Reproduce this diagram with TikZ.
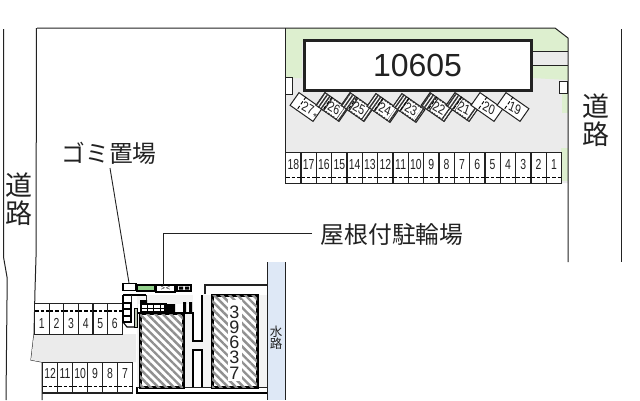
\documentclass[tikz,border=0pt]{standalone}
\usepackage{fontspec}
\setmainfont{Liberation Sans}
\newfontfamily\cjk{Noto Sans CJK JP}
\usetikzlibrary{patterns,patterns.meta,calc}
\definecolor{grn}{HTML}{DDEFCF}
\definecolor{gry}{HTML}{EBEBEB}
\definecolor{wat}{HTML}{DEE8F6}
\definecolor{ink}{HTML}{222222}
\tikzset{
 outline/.style={draw=ink,line width=1pt},
 lab/.style={font=\cjk\fontsize{23.8}{25}\selectfont,text=ink,inner sep=0pt,align=center},
 roadlab/.style={font=\cjk\fontsize{27}{28}\selectfont,text=ink,inner sep=0pt,align=center},
 num/.style={font=\fontsize{14.5}{15}\selectfont,text=ink,inner sep=0pt,xscale=.72},
 dnum/.style={font=\fontsize{14}{14}\selectfont,text=ink,inner sep=0pt,xscale=.78,rotate=-25},
 bigbldg/.style={draw=ink,line width=3pt,fill=white},
 hatchbldg/.style={draw=black,line width=3pt,fill=white,postaction={pattern={Lines[angle=-45,distance=5.5pt,line width=2.4pt]},pattern color=ink!50}},
 bay/.style={draw=ink,line width=1.2pt,fill=white},
 diag/.style={draw=ink,line width=1pt,fill=white,minimum width=28pt,minimum height=15.5pt,inner sep=0pt,rotate=-35},
 dashln/.style={draw=black,line width=1.1pt,dash pattern=on 3.5pt off 2pt},
 leader/.style={draw=ink,line width=.9pt},
 wall/.style={draw=black,line width=2pt},
}
\begin{document}
\begin{tikzpicture}[x=1pt,y=-1pt]
\useasboundingbox (0,0) rectangle (640,400);
\fill[white] (0,0) rectangle (640,400);
% upper lot
\fill[gry] (285,28) -- (555,28) -- (568,38) -- (568,183) -- (285,183) -- cycle;
\fill[grn] (285,28) -- (555,28) -- (568,38) -- (568,51) -- (532,51) -- (532,42) -- (302,42) -- (302,78) -- (285,78) -- cycle;
\fill[grn] (532,66) -- (568,66) -- (568,80) -- (532,78) -- cycle;
\fill[grn] (562,93) rectangle (568,113);
\fill[grn] (561,148) rectangle (568,181);
\draw[ink,line width=.7pt] (532,51.5) -- (568,51.5) (532,65.5) -- (568,65.5);
\node[draw=ink,line width=.8pt,fill=white,minimum width=7pt,minimum height=17pt,inner sep=0pt] (sqa) at (288.5,85.5) {};
\node[draw=ink,line width=.8pt,fill=white,minimum width=8pt,minimum height=12pt,inner sep=0pt] (sqb) at (563.5,87) {};
% boundary
\draw[outline] (3.5,29) -- (3.5,257) -- (7,277) -- (7,300) -- (6,400);
\draw[outline] (37,28) -- (555,28) -- (568,38) -- (568,262);
\draw[outline] (36.5,28) -- (36,257) -- (35,290) -- (34,334) -- (31,360) -- (42,362) -- (42,400);
\draw[outline] (285,28) -- (285,184);
\draw[outline] (621,29) -- (621,262);
% building
\node[bigbldg,minimum width=227pt,minimum height=50pt,inner sep=0pt,font=\fontsize{32}{33}\selectfont,text=ink] (b) at (417.5,65.5) {10605};
% diagonal bays
\foreach \n/\x/\y/\h in {27/306/107/0,26/332/107/1,25/357/107/1,24/383/108/1,23/409/108/1,22/437/107/1,21/462/107/1,20/487/107/0,19/513/107/0}{
 \node[diag] (d\n) at (\x,\y) {};
 \ifnum\h=1
  \fill[pattern={Lines[angle=55,distance=3pt,line width=1.5pt]},pattern color=black!80] (d\n.north west) -- (d\n.north east) -- (d\n.south east) -- (d\n.south west) -- cycle;
  \fill[white] ($(d\n.north west)!.38!(d\n.north east)+(-1,1.5)$) -- ($(d\n.north west)!.85!(d\n.north east)+(-1,1.5)$) -- ($(d\n.south west)!.85!(d\n.south east)+(1,-1.5)$) -- ($(d\n.south west)!.38!(d\n.south east)+(1,-1.5)$) -- cycle;
 \fi
 \draw[dashln,line width=.9pt] ($(d\n.north west)!.3!(d\n.north east)$) -- ($(d\n.south west)!.3!(d\n.south east)$);
 \node[dnum] (t\n) at ($(d\n.center)+(2,1)$) {\n};
}
\node[font=\fontsize{10}{10}\selectfont,text=ink,inner sep=0pt] (star) at (315,117) {*};
% upper bays
\foreach \i in {1,...,18}{
 \pgfmathsetmacro{\xx}{561-15.33*\i}
 \node[bay,anchor=north west,minimum width=15.33pt,minimum height=31pt,inner sep=0pt] (u\i) at (\xx,152) {};
 \node[num] (ul\i) at ($(u\i.center)+(0,-4)$) {\i};
 \draw[dashln] ($(u\i.south west)+(1,-7)$) -- ($(u\i.south east)+(0,-7)$);
}
% lower-left lot
\fill[gry] (34,334) -- (136,334) -- (136,362) -- (42,362) -- (31,360) -- cycle;
\foreach \i/\x in {1/34,2/48.6,3/63.2,4/77.8,5/92.4,6/107}{
 \node[bay,anchor=north west,minimum width=14.6pt,minimum height=31pt,inner sep=0pt] (a\i) at (\x,303) {};
 \node[num] (al\i) at ($(a\i.center)+(0,4)$) {\i};
 \draw[dashln] ($(a\i.north west)+(1,8)$) -- ($(a\i.north east)+(0,8)$);
}
\foreach \i/\x in {12/42,11/57,10/72,9/87,8/102,7/117}{
 \node[bay,anchor=north west,minimum width=15pt,minimum height=31pt,inner sep=0pt] (c\i) at (\x,362) {};
 \node[num] (cl\i) at ($(c\i.center)+(0,-4.5)$) {\i};
 \draw[dashln] ($(c\i.south west)+(1,-8)$) -- ($(c\i.south east)+(0,-8)$);
}
\draw[ink,line width=1.4pt] (42,393) -- (132,393);
% water channel
\fill[wat] (267,262) rectangle (285,400);
\draw[outline] (267,262) -- (267,400);
\draw[outline] (285,262) -- (285,400);
\node[font=\cjk\fontsize{12.5}{13}\selectfont,text=ink,inner sep=0pt,align=center] (w) at (276,338) {水\\[-1pt]路};
% right-hand lot
\fill[gry!60] (137,295) rectangle (267,393);
\fill[white] (205,285) rectangle (267,294);
\fill[white] (137,387) rectangle (267,393);
\draw[ink,line width=1.4pt] (205,294) -- (205,285) -- (267,285);
\draw[black,line width=1.6pt] (137,387) -- (137,393) -- (267,393);
\draw[ink,line width=.6pt] (137,387) -- (267,387);
\fill[white] (193,295) rectangle (202,341);
\fill[white] (193,350) rectangle (202,387);
\draw[wall] (202,295) -- (202,341) -- (193,341) -- (193,313);
\draw[wall] (193,387) -- (193,350) -- (202,350) -- (202,387);
\node[hatchbldg,minimum width=43pt,minimum height=74pt,inner sep=0pt] (ha) at (161.5,350) {};
\node[hatchbldg,minimum width=45pt,minimum height=92pt,inner sep=0pt] (hb) at (234.5,341) {};
\fill[white] (228,300) rectangle (242,381);
\foreach \t/\y in {3/312,9/327,6/342.5,3/357,7/373}{
 \node[font=\fontsize{18}{18}\selectfont,text=ink,inner sep=0pt] at (234.5,\y) {\t};
}
% small structures
\node[draw=black,line width=1.2pt,fill=white,minimum width=13pt,minimum height=7pt,inner sep=0pt] (sa) at (129.5,287) {};
\node[draw=black,line width=1.6pt,fill=grn!70!green!70!gray,minimum width=18pt,minimum height=6pt,inner sep=0pt] (sb) at (146,288) {};
\node[draw=black,line width=1.2pt,fill=white,minimum width=19pt,minimum height=7pt,inner sep=0pt,font=\fontsize{7}{7}\selectfont] (sc) at (165.5,288.5) {>\,<};
\node[draw=black,line width=1.2pt,fill=gry,minimum width=14pt,minimum height=6pt,inner sep=0pt] (sd) at (184,288) {};
\fill[black] (179,286.5) rectangle (183,289.5) (185,286.5) rectangle (189,289.5);
\draw[black,line width=1.2pt] (123,295) -- (146,295) (123,295) -- (123,303);
\draw[ink,line width=.8pt] (131,295) -- (131,303) (146,295) -- (146,304);
\draw[black,line width=1.1pt,fill=white] (123,303) rectangle (131,309) (123,309) rectangle (131,316) (123,316) rectangle (131,322);
\draw[black,line width=1.1pt] (123,322) -- (127,327) -- (134,327);
\fill[grn!60!gray] (134,308) rectangle (137,327);
\draw[black,line width=.7pt] (134,308) rectangle (137,327);
\fill[white] (138,304) rectangle (192,313);
\fill[black] (140,300) rectangle (147,304) (164,304) rectangle (175,312) (183,302) rectangle (186,312) (189,302) rectangle (192,312);
\draw[black,line width=1.1pt] (141,304) rectangle (166,312);
\foreach \x in {147,153,160}{\draw[black,line width=.8pt] (\x,304) -- (\x,312);}
\draw[black,line width=.8pt] (141,308) -- (166,308);
\draw[black,line width=1.4pt] (138,313) -- (194,313);
% labels and leaders
\node[lab] (gomi) at (109,153) {ゴミ置場};
\node[lab] (roof) at (392,234) {屋根付駐輪場};
\node[roadlab] (rl) at (19,199) {道\\路};
\node[roadlab] (rr) at (596,120) {道\\路};
\coordinate (gend) at (129,283);
\coordinate (rend) at (163,285);
\draw[leader] (110,168) -- (gend);
\draw[leader] (312,233) -- (163,233) -- (rend);
\end{tikzpicture}
\end{document}
